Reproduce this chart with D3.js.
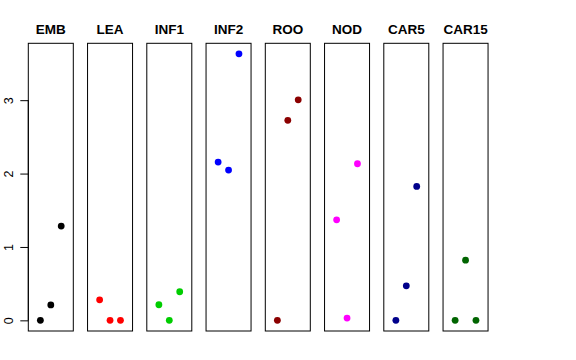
<!DOCTYPE html>
<html><head><meta charset="utf-8">
<script src="https://cdn.jsdelivr.net/npm/d3@7"></script>
<style>body{margin:0;background:#fff;} svg{display:block;}</style>
</head><body>
<script>
const categories = ["EMB","LEA","INF1","INF2","ROO","NOD","CAR5","CAR15"];
const colors = ["#000000","#FF0000","#00CD00","#0000FF","#8B0000","#FF00FF","#00008B","#006400"];
const xPositions = [1,2,3];
const seriesEMB = [0, 0.21, 1.285];
const seriesLEA = [0.28, 0, 0];
const seriesINF1 = [0.213, 0, 0.39];
const seriesINF2 = [2.157, 2.048, 3.632];
const seriesROO = [0, 2.725, 3.005];
const seriesNOD = [1.37, 0.031, 2.134];
const seriesCAR5 = [0, 0.47, 1.825];
const seriesCAR15 = [0, 0.82, 0];
const yTicks = [0,1,2,3];

const values = [seriesEMB, seriesLEA, seriesINF1, seriesINF2, seriesROO, seriesNOD, seriesCAR5, seriesCAR15];

const W = 576, H = 360;
const svg = d3.select("body").append("svg").attr("width", W).attr("height", H);

const plotTop = 43.3, plotBottom = 331;
const y = d3.scaleLinear().domain([-0.145, 3.775]).range([plotBottom, plotTop]);
const band = d3.scaleBand().domain(categories).range([28.3, 488.05]).paddingInner(0.2405).paddingOuter(0);
const x = d3.scaleLinear().domain([-0.16, 4.16]).range([0, band.bandwidth()]);

categories.forEach((cat, i) => {
  const g = svg.append("g").attr("transform", `translate(${band(cat)},0)`);
  g.append("rect").attr("x", 0).attr("y", plotTop).attr("width", band.bandwidth()).attr("height", plotBottom - plotTop)
    .attr("fill", "none").attr("stroke", "#000").attr("stroke-width", 1);
  g.append("text").attr("x", band.bandwidth()/2).attr("y", 34).attr("text-anchor", "middle")
    .attr("font-family", "Liberation Sans, Arial, sans-serif").attr("font-weight", "bold").attr("font-size", 13.5)
    .text(cat);
  g.selectAll("circle").data(values[i]).enter().append("circle")
    .attr("cx", (d, j) => x(xPositions[j]))
    .attr("cy", d => y(d))
    .attr("r", 3.4)
    .attr("fill", colors[i]);
});

const axis = d3.axisLeft(y).tickValues(yTicks).tickSize(8).tickFormat(d3.format("d"));
const ag = svg.append("g").attr("transform", `translate(${band(categories[0])},0)`).call(axis);
ag.select(".domain").remove();
ag.append("line").attr("x1", 0).attr("x2", 0).attr("y1", y(0)).attr("y2", y(3)).attr("stroke", "#000");
ag.selectAll(".tick line").attr("stroke", "#000");
ag.selectAll(".tick text")
  .attr("font-family", "Liberation Sans, Arial, sans-serif").attr("font-size", 12.5).attr("fill", "#000")
  .attr("x", null).attr("dy", null)
  .attr("text-anchor", "middle")
  .attr("transform", "translate(-20,0) rotate(-90)")
  .attr("dy", "0.35em");
</script>
</body></html>
